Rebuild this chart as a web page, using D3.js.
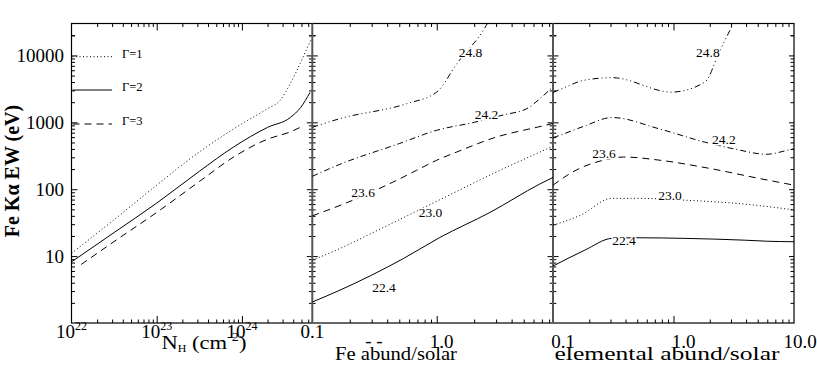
<!DOCTYPE html>
<html>
<head>
<meta charset="utf-8">
<script src="https://cdn.jsdelivr.net/npm/d3@7"></script>
<style>
body { margin: 0; background: #fff; }
svg text { font-family: "Liberation Serif", "DejaVu Serif", serif; fill: #000; }
.curve { fill: none; stroke: #000; stroke-width: 1; }
.tick line { stroke: #000; }
</style>
</head>
<body>
<div id="chart"></div>
<script>
// ---- panel 1: EW vs N_H for three photon indices
var gammaLabels = ["\u0393=1", "\u0393=2", "\u0393=3"];
var nhGamma1 = [1e22, 3.16e22, 1e23, 3.16e23, 1e24, 2e24, 2.8e24, 3.7e24, 4.9e24, 6e24, 6.6e24];
var ewGamma1 = [11, 35, 115, 360, 950, 1600, 2130, 3800, 7900, 14000, 18000];
var nhGamma2 = [1e22, 3.16e22, 1e23, 3.16e23, 7.9e23, 2e24, 3.7e24, 4.9e24, 6.3e24];
var ewGamma2 = [8.2, 22.5, 62, 185, 424, 840, 1180, 1670, 2800];
var nhGamma3 = [1.3e22, 3.16e22, 1e23, 3.16e23, 7.9e23, 2e24, 3.7e24, 5.2e24];
var ewGamma3 = [7.5, 16.5, 45, 130, 300, 560, 720, 880];

// ---- panel 2: EW vs Fe abundance, one line per log N_H
var nhLabels = ["22.4", "23.0", "23.6", "24.2", "24.8"];
var feAbund = [
  [0.1, 0.167, 0.54, 1.06, 2.68, 6.76, 8.6],
  [0.1, 0.167, 0.3, 1.0, 3.0, 8.6],
  [0.1, 0.17, 0.477, 0.69, 1.0, 1.45, 3.0, 6.5, 8.6],
  [0.1, 0.167, 0.5, 1.0, 2.0, 3.5, 5.3, 7.0, 8.6],
  [0.1, 0.167, 0.574, 1.0, 1.45, 2.5, 2.65]
];
var feEW = [
  [2.06, 3.1, 9.2, 19, 45, 120, 150],
  [8.7, 13, 22, 66, 180, 440],
  [40, 58, 136, 192, 271, 360, 600, 850, 960],
  [156, 236, 481, 760, 1000, 1300, 1600, 2400, 3400],
  [842, 1136, 1900, 2830, 7510, 28000, 34000]
];
var feLabelAt = [[0.377, 2.93], [0.891, 38.6], [0.256, 76], [2.51, 1109], [1.87, 9330]];

// ---- panel 3: EW vs abundance of all elements
var elAbund = [
  [0.1, 0.184, 0.307, 0.495, 1.25, 3.9, 5.9, 10],
  [0.1, 0.17, 0.307, 0.52, 1.25, 3.5, 9.2, 10],
  [0.1, 0.114, 0.138, 0.261, 0.383, 0.773, 2.01, 5.22, 10],
  [0.1, 0.114, 0.18, 0.31, 0.75, 1.8, 3.3, 5.9, 9.6, 10],
  [0.1, 0.114, 0.18, 0.31, 0.966, 1.82, 2.43, 3.13, 3.25]
];
var elEW = [
  [7.1, 12.3, 18.4, 18.8, 18.4, 17.3, 16.7, 16.4],
  [29, 41, 73, 73, 68.5, 61, 50, 49],
  [115, 136, 171, 271, 303, 271, 204, 144, 115],
  [590, 640, 870, 1180, 805, 508, 395, 333, 395, 400],
  [2800, 3080, 4240, 4650, 2830, 3990, 11900, 29700, 34000]
];
var elLabelAt = [[0.388, 14.6], [0.935, 68.5], [0.265, 290], [2.62, 470], [1.93, 9330]];

// ---- tick labels
var nhTickValues = [1e22, 1e23, 1e24];
var nhTickExp = ["22", "23", "24"];
var feTickValues = [0.1, 1];
var feTickLabels = ["0.1", "1.0"];
var elTickValues = [0.1, 1, 10];
var elTickLabels = ["0.1", "1.0", "10.0"];
var ewTickValues = [10, 100, 1000, 10000];
var ewTickLabels = ["10", "100", "1000", "10000"];

var width = 817, height = 369;
var L = 71.5, R = 794, T = 23.5, B = 323, D1 = 312.3, D2 = 553;

var dashStyles = [null, "1,2.5", "7,5", "6,3,1,3", "6,3,1,3,1,3,1,3"];
var gammaDash = ["1,2.5", null, "7,5"];

var x1 = d3.scaleLog().domain([1e22, 6.7e24]).range([L, D1]);
var x2 = d3.scaleLog().domain([0.1, 8.6]).range([D1, D2]);
var x3 = d3.scaleLog().domain([0.1, 10]).range([D2, R]);
var y = d3.scaleLog().domain([1, 30000]).range([B, T]);

var svg = d3.select("#chart").append("svg")
    .attr("width", width)
    .attr("height", height);

function isDecade(v) {
  var l = Math.log10(v);
  return Math.abs(l - Math.round(l)) < 1e-6;
}

function splitTicks(scale) {
  var d = scale.domain();
  var t = scale.ticks(20).filter(function(v) { return v > d[0] * 1.0001 && v < d[1] * 0.9999; });
  return {
    major: t.filter(isDecade),
    minor: t.filter(function(v) { return !isDecade(v); })
  };
}

function tickAxis(axisFn, scale, values, size, tx, ty) {
  svg.append("g")
    .attr("transform", "translate(" + tx + "," + ty + ")")
    .call(axisFn(scale).tickValues(values).tickSize(size).tickFormat(""))
    .call(function(g) { g.select(".domain").remove(); });
}

// x ticks, top and bottom, pointing inwards
[x1, x2, x3].forEach(function(sc) {
  var t = splitTicks(sc);
  tickAxis(d3.axisBottom, sc, t.major, 7, 0, T);
  tickAxis(d3.axisBottom, sc, t.minor, 3.5, 0, T);
  tickAxis(d3.axisTop, sc, t.major, 7, 0, B);
  tickAxis(d3.axisTop, sc, t.minor, 3.5, 0, B);
});

// y ticks on left, right and both dividers
var yt = splitTicks(y);
yt.minor.push(20000);
tickAxis(d3.axisRight, y, yt.major, 6, L, 0);
tickAxis(d3.axisRight, y, yt.minor, 3.5, L, 0);
tickAxis(d3.axisLeft, y, yt.major, 5, R, 0);
tickAxis(d3.axisLeft, y, yt.minor, 3.5, R, 0);
[D1, D2].forEach(function(xd) {
  tickAxis(d3.axisLeft, y, yt.major, 5.5, xd, 0);
  tickAxis(d3.axisRight, y, yt.major, 5.5, xd, 0);
  tickAxis(d3.axisLeft, y, yt.minor, 3.3, xd, 0);
  tickAxis(d3.axisRight, y, yt.minor, 3.3, xd, 0);
});

// frame and panel dividers
svg.append("rect")
    .attr("x", L).attr("y", T)
    .attr("width", R - L).attr("height", B - T)
    .attr("fill", "none").attr("stroke", "#000").attr("stroke-width", 1.2);
[D1, D2].forEach(function(xd) {
  svg.append("line")
      .attr("x1", xd).attr("x2", xd).attr("y1", T).attr("y2", B)
      .attr("stroke", "#555").attr("stroke-width", 2);
});

// clip paths per panel
var defs = svg.append("defs");
[[L, D1], [D1, D2], [D2, R]].forEach(function(p, i) {
  defs.append("clipPath").attr("id", "clip" + i)
    .append("rect").attr("x", p[0]).attr("y", T).attr("width", p[1] - p[0]).attr("height", B - T);
});

function drawCurve(xs, ys, xScale, dash, clipIdx) {
  var pts = xs.map(function(v, i) { return [v, ys[i]]; });
  var line = d3.line()
      .curve(d3.curveMonotoneX)
      .x(function(d) { return xScale(d[0]); })
      .y(function(d) { return y(d[1]); });
  svg.append("path")
      .datum(pts)
      .attr("class", "curve")
      .attr("clip-path", "url(#clip" + clipIdx + ")")
      .attr("stroke-dasharray", dash)
      .attr("d", line);
}

// panel 1 curves
drawCurve(nhGamma1, ewGamma1, x1, gammaDash[0], 0);
drawCurve(nhGamma2, ewGamma2, x1, gammaDash[1], 0);
drawCurve(nhGamma3, ewGamma3, x1, gammaDash[2], 0);

// panels 2 and 3 curves
nhLabels.forEach(function(lab, i) {
  drawCurve(feAbund[i], feEW[i], x2, dashStyles[i], 1);
  drawCurve(elAbund[i], elEW[i], x3, dashStyles[i], 2);
});

// curve labels
function curveLabel(xScale, at, text) {
  svg.append("text")
      .attr("x", xScale(at[0]))
      .attr("y", y(at[1]))
      .attr("text-anchor", "middle")
      .attr("font-size", 13.5)
      .attr("stroke", "#fff").attr("stroke-width", 3)
      .attr("paint-order", "stroke")
      .text(text);
}
nhLabels.forEach(function(lab, i) {
  curveLabel(x2, feLabelAt[i], lab);
  curveLabel(x3, elLabelAt[i], lab);
});

// legend in panel 1
var legendY = [56.7, 90, 124];
gammaLabels.forEach(function(lab, i) {
  svg.append("line")
      .attr("class", "curve")
      .attr("x1", L + 1).attr("x2", 112)
      .attr("y1", legendY[i]).attr("y2", legendY[i])
      .attr("stroke-dasharray", gammaDash[i]);
  svg.append("text")
      .attr("x", 122).attr("y", legendY[i] + 1)
      .attr("font-size", 12.5)
      .text(lab);
});

// y tick labels
ewTickValues.forEach(function(v, i) {
  svg.append("text")
      .attr("x", 64).attr("y", y(v))
      .attr("dy", "0.34em")
      .attr("text-anchor", "end")
      .attr("font-size", 19)
      .text(ewTickLabels[i]);
});

// x tick labels, panel 1
nhTickValues.forEach(function(v, i) {
  var t = svg.append("text")
      .attr("x", x1(v)).attr("y", 338)
      .attr("text-anchor", "middle")
      .attr("font-size", 19);
  t.append("tspan").text("10");
  t.append("tspan").attr("dy", -8).attr("font-size", 12).text(nhTickExp[i]);
});

// panel 2
svg.append("text")
    .attr("x", x2(feTickValues[0])).attr("y", 338)
    .attr("text-anchor", "middle").attr("font-size", 19)
    .text(feTickLabels[0]);
svg.append("text")
    .attr("x", x2(feTickValues[1]) + 5).attr("y", 348)
    .attr("text-anchor", "middle").attr("font-size", 19)
    .text(feTickLabels[1]);
svg.append("text")
    .attr("x", 374).attr("y", 347)
    .attr("text-anchor", "middle").attr("font-size", 19)
    .text("- -");

// panel 3
elTickValues.forEach(function(v, i) {
  svg.append("text")
      .attr("x", x3(v) + (i === 2 ? 6 : 10)).attr("y", 348)
      .attr("text-anchor", "middle").attr("font-size", 19)
      .text(elTickLabels[i]);
});

// axis titles
var nh = svg.append("text")
    .attr("x", 204).attr("y", 349)
    .attr("text-anchor", "middle").attr("font-size", 19)
    .attr("textLength", 85).attr("lengthAdjust", "spacingAndGlyphs");
nh.append("tspan").text("N");
nh.append("tspan").attr("dy", 3).attr("font-size", 10).text("H");
nh.append("tspan").attr("dy", -3).text(" (cm");
nh.append("tspan").attr("dy", -8).attr("font-size", 12).text("-2");
nh.append("tspan").attr("dy", 8).text(")");

svg.append("text")
    .attr("x", 396).attr("y", 360)
    .attr("text-anchor", "middle").attr("font-size", 19)
    .attr("textLength", 122).attr("lengthAdjust", "spacingAndGlyphs")
    .text("Fe abund/solar");

svg.append("text")
    .attr("x", 667).attr("y", 360)
    .attr("text-anchor", "middle").attr("font-size", 19)
    .attr("textLength", 225).attr("lengthAdjust", "spacingAndGlyphs")
    .text("elemental abund/solar");

svg.append("text")
    .attr("transform", "translate(18.5,171) rotate(-90)")
    .attr("text-anchor", "middle")
    .attr("font-size", 20)
    .attr("font-weight", "bold")
    .text("Fe K\u03b1 EW (eV)");
</script>
</body>
</html>
